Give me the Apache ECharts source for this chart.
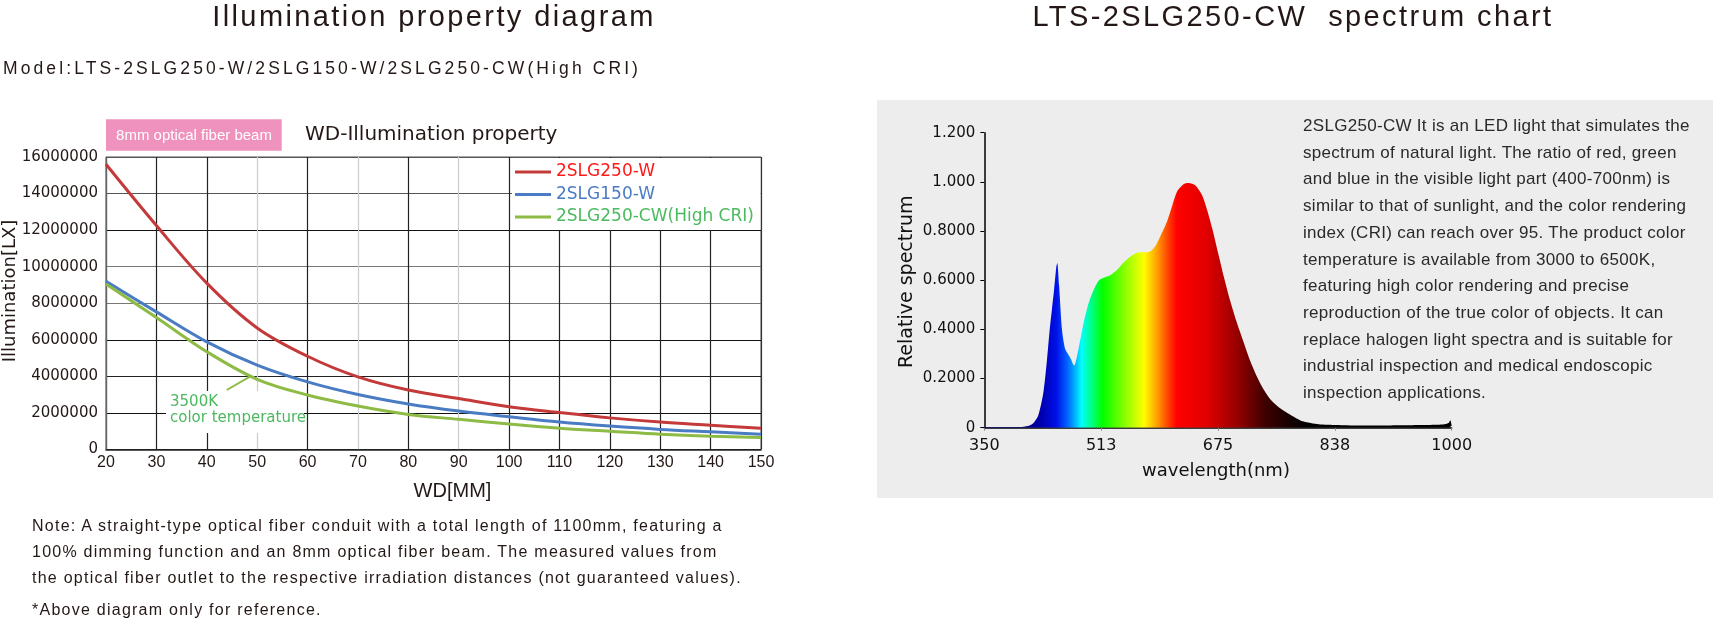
<!DOCTYPE html>
<html>
<head>
<meta charset="utf-8">
<script src="https://cdn.jsdelivr.net/npm/echarts@6/dist/echarts.min.js"></script>
<style>
  html, body { margin: 0; padding: 0; background: #fff; }
  #wrap { position: relative; width: 1718px; height: 623px; overflow: hidden; }
  #chart { position: absolute; left: 0; top: 0; width: 1718px; height: 623px; }
  .txt { position: absolute; font-family: 'Liberation Sans', Arial, sans-serif; color: #231815; white-space: pre; pointer-events: none; }
  .ttl { font-size: 29px; line-height: 29px; letter-spacing: 2.4px; text-align: center; top: 2px; }
</style>
</head>
<body>
<div id="wrap">
  <div id="chart"></div>
  <div class="txt ttl" style="left:0;width:868px;">Illumination property diagram</div>
  <div class="txt ttl" style="left:993px;width:600px;">LTS-2SLG250-CW  spectrum chart</div>
  <div class="txt" style="left:3px;top:60px;font-size:17.5px;line-height:17px;letter-spacing:3.1px;">Model:LTS-2SLG250-W/2SLG150-W/2SLG250-CW(High CRI)</div>
  <div class="txt" style="left:32px;top:513px;font-size:16px;line-height:25.8px;letter-spacing:1.25px;">Note: A straight-type optical fiber conduit with a total length of 1100mm, featuring a
100% dimming function and an 8mm optical fiber beam. The measured values from
the optical fiber outlet to the respective irradiation distances (not guaranteed values).</div>
  <div class="txt" style="left:32px;top:597px;font-size:16px;line-height:25.8px;letter-spacing:1.25px;">*Above diagram only for reference.</div>
  <div class="txt" style="left:1303px;top:113px;font-size:17px;line-height:26.7px;letter-spacing:0.3px;color:#2a2a2a;">2SLG250-CW It is an LED light that simulates the
spectrum of natural light. The ratio of red, green
and blue in the visible light part (400-700nm) is
similar to that of sunlight, and the color rendering
index (CRI) can reach over 95. The product color
temperature is available from 3000 to 6500K,
featuring high color rendering and precise
reproduction of the true color of objects. It can
replace halogen light spectra and is suitable for
industrial inspection and medical endoscopic
inspection applications.</div>
</div>
<script>
// WD - illumination data (lux)
var wd = [20, 30, 40, 50, 60, 70, 80, 90, 100, 110, 120, 130, 140, 150];
var lux250W  = [15600000, 12250000, 9100000, 6650000, 5100000, 3970000, 3250000, 2790000, 2340000, 2020000, 1730000, 1500000, 1330000, 1160000];
var lux150W  = [9200000, 7530000, 5890000, 4620000, 3700000, 3010000, 2490000, 2100000, 1790000, 1500000, 1280000, 1100000, 970000, 840000];
var lux250CW = [9050000, 7220000, 5350000, 3840000, 2980000, 2380000, 1920000, 1650000, 1390000, 1160000, 1000000, 840000, 730000, 660000];
var seriesNames = ['2SLG250-W', '2SLG150-W', '2SLG250-CW(High CRI)'];

// spectrum of 2SLG250-CW
var specWl = [350, 370, 390, 405, 412, 418, 425, 432, 437, 441, 444, 447, 450, 451.5, 454, 458, 462.5, 469.5, 475, 481, 488, 495, 502, 509, 516, 525, 534, 543, 553, 562, 571, 580, 587.5, 594.5, 604, 611, 618, 627, 634, 643.5, 653, 660, 667, 676, 683, 692, 701.5, 711, 720, 729.5, 738.5, 748, 762, 776, 793, 815, 840, 870, 900, 930, 960, 980, 990, 996, 998, 1000];
var specVal = [0.003, 0.003, 0.003, 0.004, 0.008, 0.018, 0.05, 0.14, 0.27, 0.40, 0.48, 0.56, 0.65, 0.67, 0.58, 0.40, 0.32, 0.285, 0.253, 0.32, 0.425, 0.506, 0.56, 0.598, 0.61, 0.62, 0.64, 0.67, 0.695, 0.712, 0.714, 0.716, 0.737, 0.777, 0.838, 0.90, 0.96, 0.99, 0.995, 0.985, 0.945, 0.885, 0.81, 0.70, 0.615, 0.515, 0.425, 0.345, 0.27, 0.205, 0.155, 0.115, 0.078, 0.052, 0.026, 0.014, 0.011, 0.009, 0.009, 0.01, 0.011, 0.012, 0.014, 0.02, 0.03, 0.008];
var specXTicks = [350, 512.5, 675, 837.5, 1000];
var specYLabels = ['0', '0.2000', '0.4000', '0.6000', '0.8000', '1.000', '1.200'];

// colour of the spectrum fill by wavelength
var specColors = [
  [350, '#000080'], [400, '#000080'], [430, '#0000b0'], [450, '#0010e8'], [465, '#0060ff'],
  [478, '#00c0ff'], [485, '#00ffff'], [497, '#00ff99'], [514, '#00ff00'], [545, '#88ff00'],
  [572, '#ffff00'], [590, '#ffa000'], [606, '#ff4000'], [618, '#ff0000'], [660, '#e00000'],
  [700, '#9a0000'], [740, '#400000'], [780, '#100000'], [800, '#000000'], [1000, '#000000']
];

var chart = echarts.init(document.getElementById('chart'));

function zip(xs, ys) {
  var out = [];
  for (var i = 0; i < xs.length; i++) out.push([xs[i], ys[i]]);
  return out;
}

var stops = specColors.map(function (c) { return { offset: (c[0] - 350) / 650, color: c[1] }; });
var specGrad = new echarts.graphic.LinearGradient(0, 0, 1, 0, stops);

var fontA = "'Liberation Sans', Arial, sans-serif";
var fontD = "'DejaVu Sans', sans-serif";
var ink = '#231815';

var option = {
  animation: false,
  backgroundColor: '#fff',
  grid: [
    { left: 106, top: 157, width: 655, height: 292.5, show: true, borderColor: '#555', borderWidth: 1 },
    { left: 984.3, top: 132.7, width: 467.4, height: 295 }
  ],
  legend: {
    left: 512, top: 158, orient: 'vertical',
    icon: 'rect', itemWidth: 36, itemHeight: 3, itemGap: 4.5,
    padding: [5, 0, 0, 3],
    textStyle: { fontSize: 17, fontFamily: fontD, lineHeight: 18 },
    data: [
      { name: seriesNames[0], textStyle: { color: '#ff1a1a' } },
      { name: seriesNames[1], textStyle: { color: '#4a7cc4' } },
      { name: seriesNames[2], textStyle: { color: '#4cba5f' } }
    ]
  },
  xAxis: [
    {
      gridIndex: 0, type: 'value', min: 20, max: 150, interval: 10,
      axisLine: { lineStyle: { color: '#222', width: 1.5 } },
      axisTick: { show: false },
      axisLabel: { fontSize: 16, fontFamily: fontA, color: ink, margin: 5 },
      splitLine: { show: true, lineStyle: { width: 1.2, color: ['#333', '#222', '#222', '#ccc', '#222', '#ccc', '#222', '#ccc', '#222', '#222', '#222', '#222', '#222', '#333'] } }
    },
    {
      gridIndex: 1, type: 'value', min: 350, max: 1000,
      axisLine: { lineStyle: { color: '#000', width: 1.5 } },
      axisTick: { show: true, length: 3, lineStyle: { color: '#888' }, customValues: specXTicks },
      axisLabel: { fontSize: 16, fontFamily: fontD, color: '#111', margin: 10, customValues: specXTicks,
        formatter: function (v) { return String(Math.round(v)); } },
      splitLine: { show: false }
    }
  ],
  yAxis: [
    {
      gridIndex: 0, type: 'value', min: 0, max: 16000000, interval: 2000000,
      axisLine: { show: true, lineStyle: { color: '#666', width: 1.2 } },
      axisTick: { show: false },
      axisLabel: { fontSize: 15, fontFamily: fontD, color: ink, margin: 8, formatter: function (v) { return String(v); } },
      splitLine: { show: true, lineStyle: { width: 1.2, color: ['#222', '#111', '#222', '#111', '#777', '#777', '#111', '#555', '#555'] } }
    },
    {
      gridIndex: 1, type: 'value', min: 0, max: 1.2, interval: 0.2,
      axisLine: { show: true, lineStyle: { color: '#000', width: 1.5 } },
      axisTick: { show: true, length: 4, lineStyle: { color: '#000' } },
      axisLabel: { fontSize: 15, fontFamily: fontD, color: '#111', margin: 9,
        formatter: function (v) { return specYLabels[Math.round(v / 0.2)]; } },
      splitLine: { show: false }
    }
  ],
  series: [
    { name: seriesNames[0], type: 'line', xAxisIndex: 0, yAxisIndex: 0, data: zip(wd, lux250W), smooth: 0.35, symbol: 'none', color: '#c43a3a', lineStyle: { width: 3 } },
    { name: seriesNames[1], type: 'line', xAxisIndex: 0, yAxisIndex: 0, data: zip(wd, lux150W), smooth: 0.35, symbol: 'none', color: '#4a7cc4', lineStyle: { width: 3 } },
    { name: seriesNames[2], type: 'line', xAxisIndex: 0, yAxisIndex: 0, data: zip(wd, lux250CW), smooth: 0.35, symbol: 'none', color: '#8dbb45', lineStyle: { width: 3 } },
    { name: 'spectrum', type: 'line', xAxisIndex: 1, yAxisIndex: 1, data: zip(specWl, specVal), smooth: 0.25, symbol: 'none',
      lineStyle: { width: 0 }, areaStyle: { color: specGrad, opacity: 1 } }
  ],
  graphic: [
    // grey panel behind spectrum
    { type: 'rect', z: -10, shape: { x: 877, y: 100, width: 836, height: 398 }, style: { fill: '#ededed' } },
    // white box under legend
    { type: 'rect', z: 1, shape: { x: 512, y: 158, width: 248.5, height: 72 }, style: { fill: '#fff' } },
    // pink badge
    { type: 'rect', z: 1, shape: { x: 106, y: 119.3, width: 175.7, height: 31.4 }, style: { fill: '#ef92bd' } },
    { type: 'text', z: 3, style: { text: '8mm optical fiber beam', x: 194, y: 135.5, align: 'center', verticalAlign: 'middle', fill: '#fff', fontSize: 15, fontFamily: fontA } },
    { type: 'text', z: 3, style: { text: 'WD-Illumination property', x: 305, y: 135, align: 'left', verticalAlign: 'middle', fill: ink, fontSize: 20, fontFamily: fontD } },
    // annotation
    { type: 'rect', z: 1, shape: { x: 166, y: 391, width: 138, height: 42 }, style: { fill: '#fff' } },
    { type: 'line', z: 3, shape: { x1: 226.7, y1: 390, x2: 250, y2: 376.7 }, style: { stroke: '#8dbb45', lineWidth: 2 } },
    { type: 'text', z: 3, style: { text: '3500K', x: 170, y: 402, align: 'left', verticalAlign: 'middle', fill: '#4cb860', fontSize: 15, fontFamily: fontD } },
    { type: 'text', z: 3, style: { text: 'color temperature', x: 170, y: 418, align: 'left', verticalAlign: 'middle', fill: '#4cb860', fontSize: 15, fontFamily: fontD } },
    // axis names
    { type: 'text', z: 3, style: { text: 'WD[MM]', x: 452.5, y: 491, align: 'center', verticalAlign: 'middle', fill: ink, fontSize: 20, fontFamily: fontA } },
    { type: 'text', z: 3, x: 10, y: 291, rotation: Math.PI / 2, style: { text: 'Illumination[LX]', x: 0, y: 0, align: 'center', verticalAlign: 'middle', fill: ink, fontSize: 18, fontFamily: fontD } },
    { type: 'text', z: 3, x: 906.7, y: 281.7, rotation: Math.PI / 2, style: { text: 'Relative spectrum', x: 0, y: 0, align: 'center', verticalAlign: 'middle', fill: '#111', fontSize: 19, fontFamily: fontD } },
    { type: 'text', z: 3, style: { text: 'wavelength(nm)', x: 1216, y: 471.7, align: 'center', verticalAlign: 'middle', fill: '#111', fontSize: 18, fontFamily: fontD } }
  ]
};

chart.setOption(option);
</script>
</body>
</html>
